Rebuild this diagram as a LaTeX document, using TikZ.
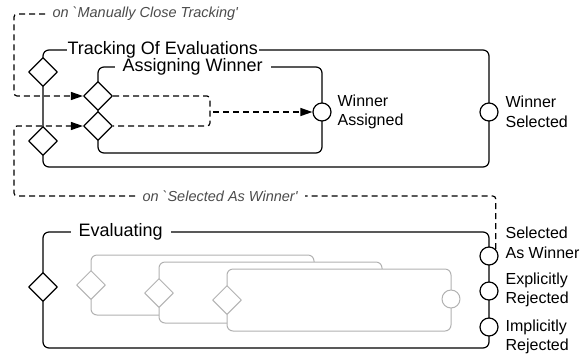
\documentclass[tikz,border=0pt]{standalone}
\usepackage{fontspec}
\setmainfont{Liberation Sans}
\usetikzlibrary{shapes.geometric,arrows.meta,positioning}

\begin{document}
\begin{tikzpicture}[x=1pt, y=-1pt, line width=1.2pt, line join=round,
  gate/.style={diamond, draw, fill=white, inner sep=0pt, minimum size=29pt},
  port/.style={circle, draw, fill=white, inner sep=0pt, minimum size=18pt},
  ghost/.style={draw=black!30, line width=1pt},
  frame/.style={draw, rounded corners=6pt},
  title/.style={fill=white, anchor=west, inner ysep=0pt, font=\fontsize{18}{20}\selectfont},
  lbl/.style={align=left, anchor=west, inner sep=0pt, font=\fontsize{16}{19.5}\selectfont},
  event/.style={fill=white, inner xsep=7pt, text=black!70, font=\fontsize{14.5}{17}\selectfont\itshape},
  flow/.style={dash pattern=on 6pt off 4pt, rounded corners=3pt},
  >={Triangle[length=12pt,width=8pt]}]
  \useasboundingbox (0,0) rectangle (583,360);

  % tracking of evaluations
  \draw[frame] (43,50) rectangle (489,167);
  \node[title, inner xsep=1pt] (tTrack) at (66,50) {Tracking Of Evaluations};
  \draw[frame] (98,67) rectangle (322,153);
  \node[title, inner xsep=8pt] (tAssign) at (114,67) {Assigning Winner};

  \node[gate] (dTop) at (43,72) {};
  \node[gate] (dBot) at (43,141) {};
  \node[gate] (dA1) at (98,96) {};
  \node[gate] (dA2) at (98,126) {};
  \node[port] (cAss) at (322,112) {};
  \node[port] (cWin) at (489,112) {};
  \node[lbl] (lAss) at (337,112) {Winner\\Assigned};
  \node[lbl] (lWin) at (505,112) {Winner\\Selected};

  % evaluating
  \draw[frame] (43,232) rectangle (489,348);
  \node[title, inner xsep=8pt] (tEval) at (70,232) {Evaluating};
  \node[gate] (dEval) at (43,287) {};
  \draw[ghost, fill=white, rounded corners=6pt] (91,255) rectangle (314,315);
  \node[gate, ghost] (g1) at (91,285) {};
  \draw[ghost, fill=white, rounded corners=6pt] (159,262) rectangle (382,323);
  \node[gate, ghost] (g2) at (159,293) {};
  \draw[ghost, fill=white, rounded corners=6pt] (227,269) rectangle (451,331);
  \node[gate, ghost] (g3) at (227,300) {};
  \node[port, ghost] (gC) at (451,299) {};

  \node[port] (cSel) at (489,256) {};
  \node[port] (cExp) at (489,291) {};
  \node[port] (cImp) at (489,327) {};
  \node[lbl] (lSel) at (505,243) {Selected\\As Winner};
  \node[lbl] (lExp) at (505,290) {Explicitly\\Rejected};
  \node[lbl] (lImp) at (505,337) {Implicitly\\Rejected};

  % events
  \node[event, anchor=west] (onMan) at (45,14) {on \textasciigrave Manually Close Tracking\textquotesingle};
  \node[event, anchor=west] (onSel) at (135,196) {on \textasciigrave Selected As Winner\textquotesingle};
  \coordinate (merge) at (213,112);

  \draw[flow,->] (onMan.west) -| (14,96) -- (dA1);
  \draw[flow] (dA1) -- (210,96) -- (210,126) -- (dA2);
  \draw[flow,->] (merge) -- (cAss);
  \draw[flow] (cSel.45) |- (onSel.east);
  \draw[flow,->] (onSel.west) -| (14,126) -- (dA2);
\end{tikzpicture}
\end{document}
